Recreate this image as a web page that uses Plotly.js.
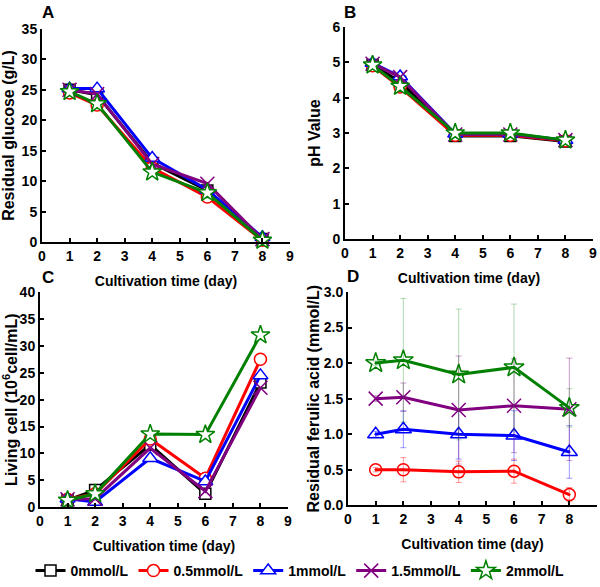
<!DOCTYPE html>
<html>
<head>
<meta charset="utf-8">
<script src="https://cdn.plot.ly/plotly-3.0.1.min.js"></script>
<style>html,body{margin:0;padding:0;background:#fff;}#chart{width:600px;height:587px;}</style>
</head>
<body>
<div id="chart"></div>
<script>
// ---- data ----
const days = [1, 2, 4, 6, 8];
const seriesNames = ['0mmol/L', '0.5mmol/L', '1mmol/L', '1.5mmol/L', '2mmol/L'];
const seriesColors = ['#000000', '#ff0000', '#0000ff', '#800080', '#008000'];
const errorColors = ['rgba(0,0,0,0.35)', 'rgba(255,0,0,0.4)', 'rgba(0,0,255,0.4)', 'rgba(128,0,128,0.4)', 'rgba(0,128,0,0.3)'];

// Panel A: residual glucose (g/L)
const glucose0   = [25.0, 24.2, 13.0, 8.5, 0.5];
const glucose05  = [24.5, 22.5, 12.2, 7.4, 0.3];
const glucose1   = [25.2, 25.2, 13.8, 8.6, 0.8];
const glucose15  = [25.0, 24.3, 12.8, 9.6, 0.5];
const glucose2   = [24.7, 22.7, 11.5, 8.1, 0.3];
const glucoseErr = [0.4, 0.8, 0.6, 0.9, 0.2];

// Panel B: pH value
const ph0  = [4.92, 4.45, 2.92, 2.92, 2.76];
const ph05 = [4.90, 4.30, 2.94, 2.94, 2.78];
const ph1  = [4.98, 4.60, 2.98, 2.98, 2.80];
const ph15 = [4.96, 4.58, 2.96, 2.96, 2.80];
const ph2  = [4.92, 4.32, 3.00, 3.00, 2.80];

// Panel C: living cell (10^6 cell/mL)
const cell0  = [1.3, 3.2, 11.6, 2.5, 23.2];
const cell05 = [1.5, 2.5, 12.7, 5.4, 27.5];
const cell1  = [1.6, 1.0, 9.1, 4.8, 24.5];
const cell15 = [1.5, 1.6, 11.0, 3.0, 22.2];
const cell2  = [1.3, 2.5, 13.6, 13.5, 32.0];

// Panel D: residual ferulic acid (mmol/L)
const ferulic05 = [0.50, 0.50, 0.47, 0.48, 0.15];
const ferulic1  = [1.00, 1.07, 1.00, 0.98, 0.75];
const ferulic15 = [1.50, 1.52, 1.34, 1.40, 1.35];
const ferulic2  = [2.00, 2.04, 1.84, 1.94, 1.37];
const ferulicErr05 = [0.03, 0.17, 0.15, 0.17, 0.10];
const ferulicErr1  = [0.04, 0.26, 0.35, 0.35, 0.37];
const ferulicErr15 = [0.04, 0.20, 0.76, 0.66, 0.72];
const ferulicErr2  = [0.03, 0.87, 0.92, 0.89, 0.27];

// tick labels
const xTicks = [0, 1, 2, 3, 4, 5, 6, 7, 8, 9];
const panelLabels = ['A', 'B', 'C', 'D'];
const xTitle = 'Cultivation time (day)';

// ---- styles ----
const symbolsABC = ['square', 'circle', 'triangle-up', 'x-thin', 'star'];
const sizesABC = [11, 12, 13, 14, 14];
const FAM = 'Liberation Sans, Arial, sans-serif';

function mk(x, y, i, xa, ya, showlegend, err) {
  const sym = symbolsABC[i];
  const t = {
    type: 'scatter', mode: 'lines+markers', x: x, y: y,
    xaxis: xa, yaxis: ya, name: seriesNames[i], showlegend: showlegend,
    cliponaxis: false,
    line: {color: seriesColors[i], width: 3},
    marker: {
      symbol: sym, size: sizesABC[i],
      color: sym === 'x-thin' ? seriesColors[i] : 'white',
      line: {color: seriesColors[i], width: 1.5}
    }
  };
  if (err) {
    t.error_y = {type: 'data', array: err, visible: true, color: errorColors[i], thickness: 1, width: 3};
  }
  return t;
}

function mkD(y, i, err, sym, size) {
  return {
    type: 'scatter', mode: 'lines+markers', x: days, y: y,
    xaxis: 'x4', yaxis: 'y4', name: seriesNames[i], showlegend: false,
    cliponaxis: false,
    line: {color: seriesColors[i], width: 3},
    marker: {symbol: sym, size: size, color: seriesColors[i], line: {color: seriesColors[i], width: 1.5}},
    error_y: {type: 'data', array: err, visible: true, color: errorColors[i], thickness: 1, width: 3}
  };
}

const glucose = [glucose0, glucose05, glucose1, glucose15, glucose2];
const ph = [ph0, ph05, ph1, ph15, ph2];
const cell = [cell0, cell05, cell1, cell15, cell2];

const traces = [];
glucose.forEach((g, i) => traces.push(mk(days, g, i, 'x', 'y', true, (i === 1 || i === 4) ? glucoseErr : null)));
ph.forEach((p, i) => traces.push(mk(days, p, i, 'x2', 'y2', false, null)));
cell.forEach((c, i) => traces.push(mk(days, c, i, 'x3', 'y3', false, null)));
traces.push(mkD(ferulic05, 1, ferulicErr05, 'circle-open-dot', 12));
traces.push(mkD(ferulic1, 2, ferulicErr1, 'triangle-up-open-dot', 14));
traces.push(mkD(ferulic15, 3, ferulicErr15, 'x-thin', 14));
traces.push(mkD(ferulic2, 4, ferulicErr2, 'star-open-dot', 15));

const W = 600, H = 587;
const fx = (a, b) => [a / W, b / W];
const fy = (top, bottom) => [1 - bottom / H, 1 - top / H];

const tickFont = {family: FAM, size: 14, color: '#000', weight: 'bold'};
const titleFont = {family: FAM, size: 14, color: '#000', weight: 'bold'};

function xax(dom, anchor) {
  return {
    domain: dom, anchor: anchor, range: [0, 9], tickvals: xTicks, ticktext: xTicks.map(String),
    showline: true, linewidth: 2, linecolor: '#000', ticks: 'inside', ticklen: 4, tickwidth: 2, tickcolor: '#000',
    showgrid: false, zeroline: false, tickfont: tickFont,
    title: {text: xTitle, font: titleFont, standoff: 13}
  };
}
function yax(dom, anchor, range, dtick, title, fmt, standoff) {
  return {
    domain: dom, anchor: anchor, range: range, dtick: dtick, tick0: 0, tickformat: fmt,
    showline: true, linewidth: 2, linecolor: '#000', ticks: 'inside', ticklen: 4, tickwidth: 2, tickcolor: '#000',
    showgrid: false, zeroline: false, tickfont: tickFont,
    title: {text: title, font: {family: FAM, size: 16, color: '#000', weight: 'bold'}, standoff: standoff}
  };
}

const layout = {
  width: W, height: H,
  margin: {l: 0, r: 0, t: 0, b: 0},
  paper_bgcolor: '#fff', plot_bgcolor: 'rgba(0,0,0,0)',
  font: {family: FAM, color: '#000'},
  xaxis: xax(fx(42, 290), 'y'),
  yaxis: yax(fy(29, 243), 'x', [0, 35], 5, 'Residual glucose (g/L)', '', 3),
  xaxis2: xax(fx(345, 593), 'y2'),
  yaxis2: yax(fy(27, 240), 'x2', [0, 6], 1, 'pH Value', '', 8),
  xaxis3: xax(fx(40, 288), 'y3'),
  yaxis3: yax(fy(293, 509), 'x3', [0, 40], 5, 'Living cell (10<sup>6</sup>cell/mL)', '', 2),
  xaxis4: xax(fx(348, 597), 'y4'),
  yaxis4: yax(fy(293, 507), 'x4', [0, 3], 0.5, 'Residual ferulic acid (mmol/L)', '.1f', 0),
  showlegend: true,
  legend: {
    orientation: 'h', x: 0.5, xanchor: 'center', y: 1 - 573 / H, yanchor: 'middle',
    font: {family: FAM, size: 14, color: '#000', weight: 'bold'},
    itemwidth: 30, tracegroupgap: 0, bgcolor: 'rgba(0,0,0,0)'
  },
  annotations: [
    {text: panelLabels[0], x: 40 / W, y: 1 - 13 / H},
    {text: panelLabels[1], x: 342 / W, y: 1 - 13 / H},
    {text: panelLabels[2], x: 40 / W, y: 1 - 278 / H},
    {text: panelLabels[3], x: 345 / W, y: 1 - 277 / H}
  ].map(a => Object.assign(a, {xref: 'paper', yref: 'paper', showarrow: false, xanchor: 'left', yanchor: 'middle',
      font: {family: FAM, size: 17, color: '#000', weight: 'bold'}}))
};

Plotly.newPlot('chart', traces, layout, {displayModeBar: false, staticPlot: true});
</script>
</body>
</html>
